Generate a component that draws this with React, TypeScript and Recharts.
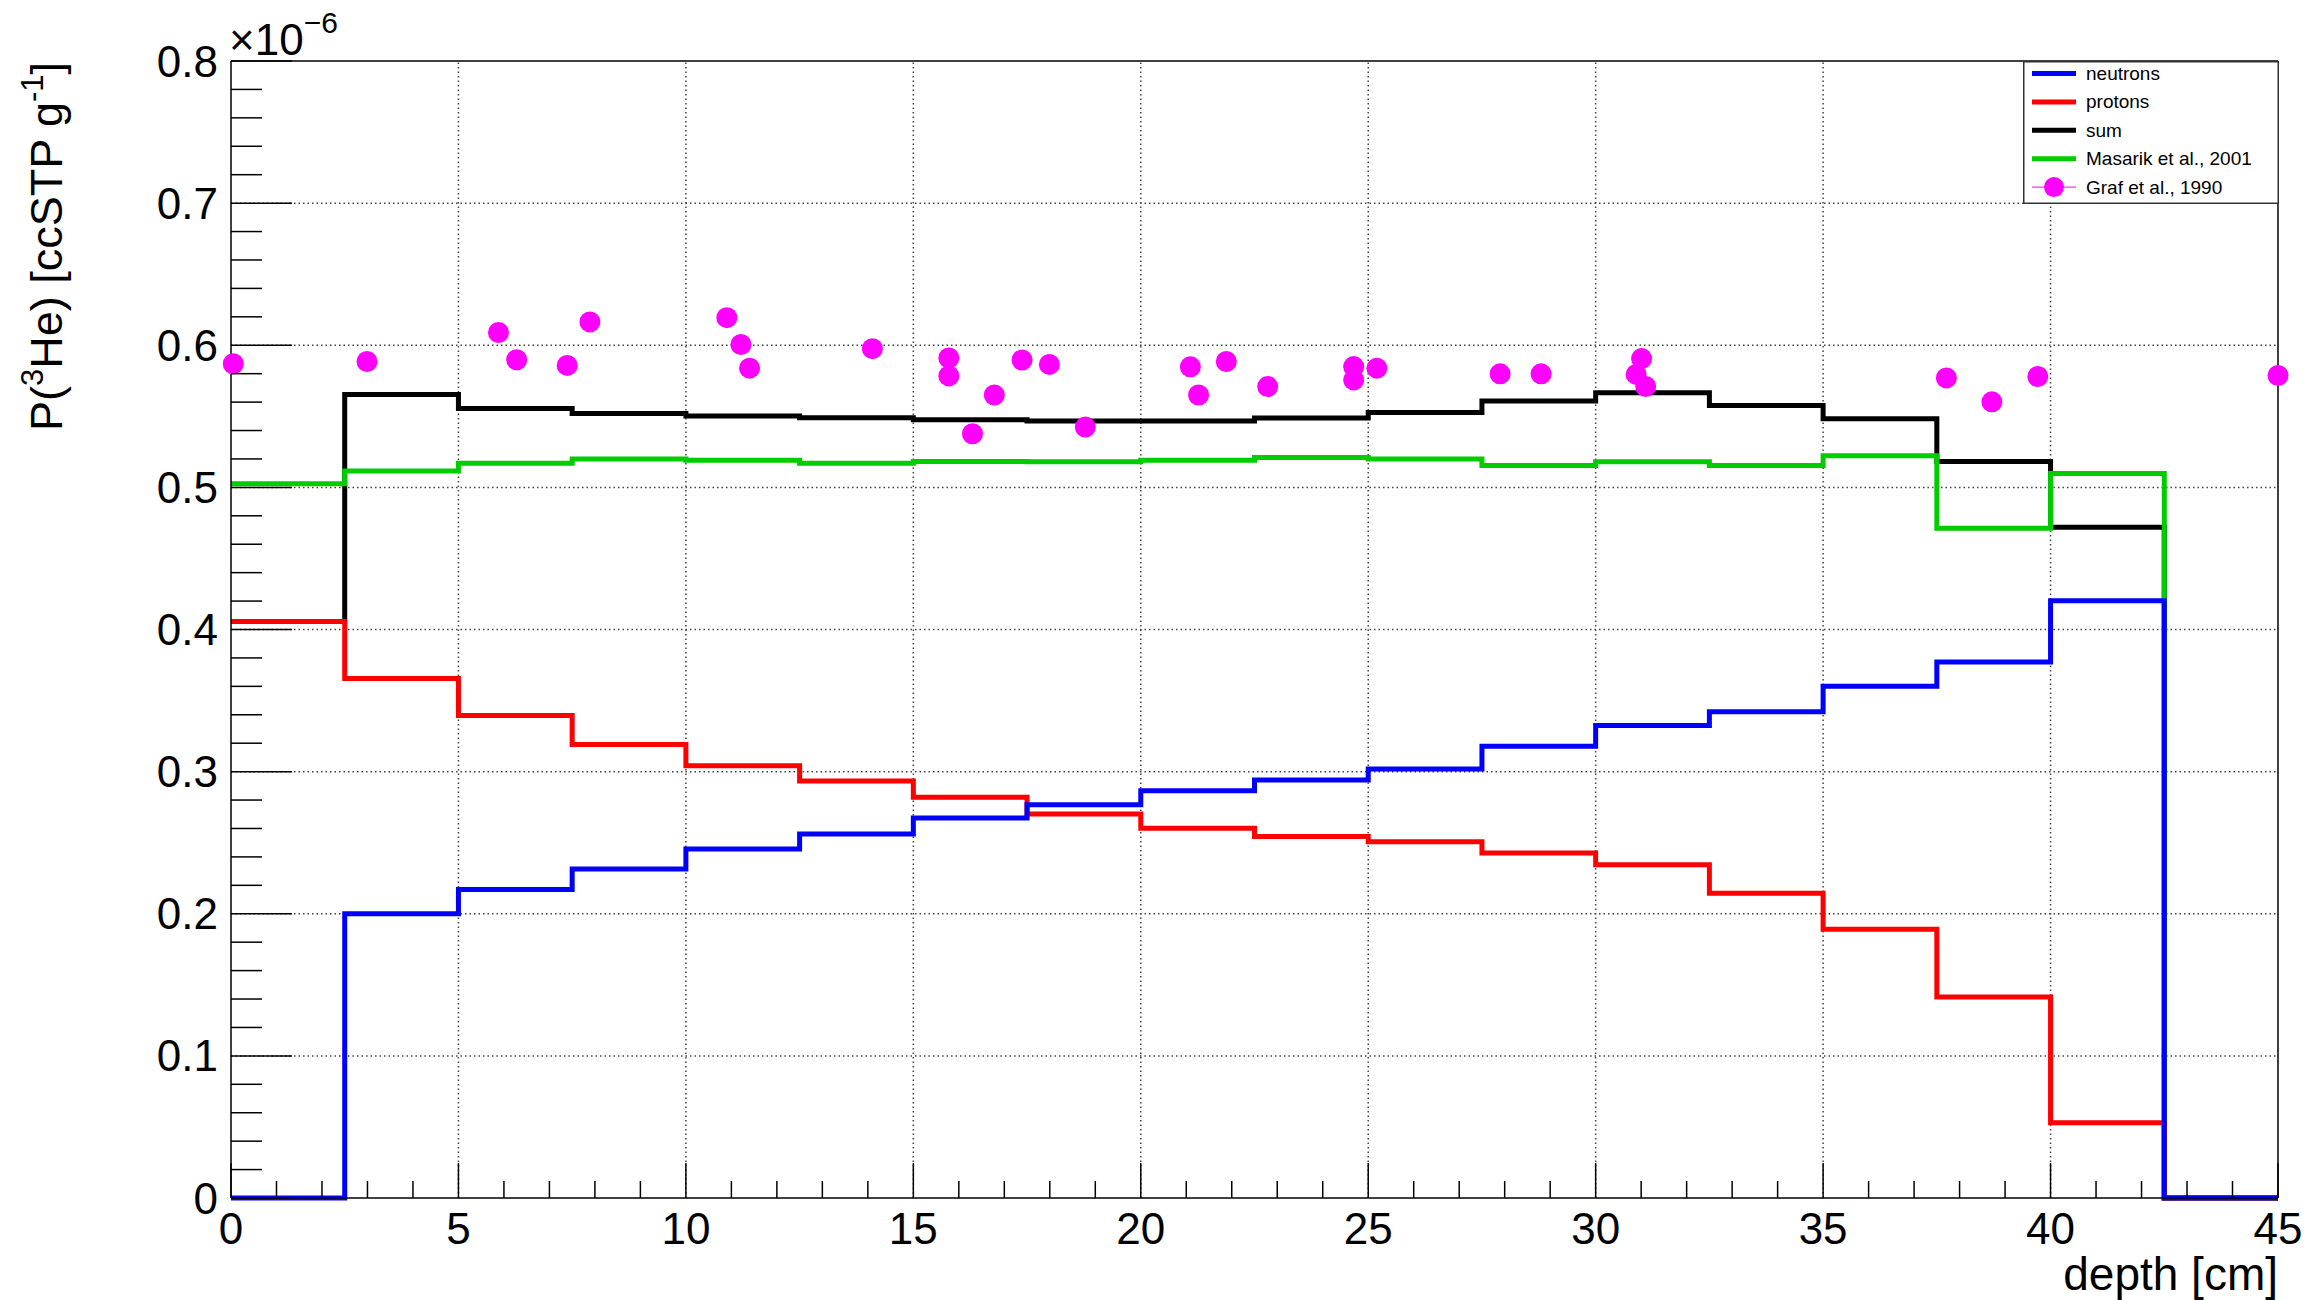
import React from 'react';
import {
  ComposedChart,
  Line,
  Scatter,
  XAxis,
  YAxis,
  ReferenceLine,
  Label,
} from 'recharts';

// depth bins (cm), values in units of 1e-6 ccSTP/g
const binEdges = [0, 2.5, 5, 7.5, 10, 12.5, 15, 17.5, 20, 22.5, 25, 27.5, 30, 32.5, 35, 37.5, 40, 42.5, 45];

const neutrons = [0, 0.2, 0.217, 0.2315, 0.2456, 0.2562, 0.2673, 0.2767, 0.2866, 0.2941, 0.3019, 0.3179, 0.3325, 0.3421, 0.36, 0.3772, 0.4202, 0];
const protons = [0.4056, 0.3656, 0.3395, 0.319, 0.3042, 0.2934, 0.2819, 0.2701, 0.2602, 0.2544, 0.2506, 0.2428, 0.2345, 0.2144, 0.1891, 0.1415, 0.0529, 0];
const sum = [0.4056, 0.5654, 0.5555, 0.552, 0.5503, 0.549, 0.5476, 0.5467, 0.5467, 0.5488, 0.5526, 0.5607, 0.5666, 0.5576, 0.5483, 0.5182, 0.472, 0];
const masarik = [0.5026, 0.5116, 0.517, 0.52, 0.519, 0.517, 0.5182, 0.518, 0.519, 0.521, 0.52, 0.5154, 0.518, 0.5154, 0.5223, 0.4713, 0.5097, 0];

// Graf et al., 1990 measurements
const grafDepth = [0.05, 2.99, 5.88, 6.28, 7.39, 7.89, 10.9, 11.21, 11.4, 14.1, 15.78, 15.78, 16.3, 16.78, 17.39, 17.99, 18.78, 21.09, 21.27, 21.88, 22.79, 24.68, 24.68, 25.19, 27.9, 28.8, 31.01, 30.89, 31.1, 37.71, 38.71, 39.72, 45.0];
const grafValue = [0.587, 0.5886, 0.609, 0.5898, 0.5858, 0.6164, 0.6194, 0.6005, 0.5839, 0.5976, 0.591, 0.5784, 0.5377, 0.565, 0.5896, 0.5865, 0.5424, 0.5848, 0.565, 0.5886, 0.5709, 0.585, 0.5756, 0.5839, 0.5799, 0.5799, 0.5906, 0.5795, 0.571, 0.577, 0.5602, 0.578, 0.5787];

const xTicks = [0, 1, 2, 3, 4, 5, 6, 7, 8, 9, 10, 11, 12, 13, 14, 15, 16, 17, 18, 19, 20, 21, 22, 23, 24, 25, 26, 27, 28, 29, 30, 31, 32, 33, 34, 35, 36, 37, 38, 39, 40, 41, 42, 43, 44, 45];
const yTicks = [0, 0.02, 0.04, 0.06, 0.08, 0.1, 0.12, 0.14, 0.16, 0.18, 0.2, 0.22, 0.24, 0.26, 0.28, 0.3, 0.32, 0.34, 0.36, 0.38, 0.4, 0.42, 0.44, 0.46, 0.48, 0.5, 0.52, 0.54, 0.56, 0.58, 0.6, 0.62, 0.64, 0.66, 0.68, 0.7, 0.72, 0.74, 0.76, 0.78, 0.8];
const xGrid = [5, 10, 15, 20, 25, 30, 35, 40];
const yGrid = [0.1, 0.2, 0.3, 0.4, 0.5, 0.6, 0.7];

const FONT = '"Liberation Sans", Arial, Helvetica, sans-serif';
const BLUE = '#0000ff';
const RED = '#ff0000';
const BLACK = '#000000';
const GREEN = '#00cc00';
const MAGENTA = '#ff00ff';

const histo = (values: number[]) =>
  binEdges.map((x, i) => ({ x, y: values[Math.min(i, values.length - 1)] }));

const grafData = grafDepth.map((x, i) => ({ x, y: grafValue[i] }));

const legendItems = [
  { label: 'neutrons', color: BLUE, marker: false },
  { label: 'protons', color: RED, marker: false },
  { label: 'sum', color: BLACK, marker: false },
  { label: 'Masarik et al., 2001', color: GREEN, marker: false },
  { label: 'Graf et al., 1990', color: MAGENTA, marker: true },
];

const XTick = (props: any) => {
  const { x, y, payload } = props;
  const v = payload.value;
  const major = v % 5 === 0;
  return (
    <g>
      <line x1={x} y1={y} x2={x} y2={y - (major ? 35 : 17)} stroke="#000" strokeWidth={1.5} />
      {major && (
        <text x={x} y={y + 30} textAnchor="middle" dominantBaseline="central" fontFamily={FONT} fontSize={44} fill="#000">
          {v}
        </text>
      )}
    </g>
  );
};

const YTick = (props: any) => {
  const { x, y, payload } = props;
  const v = payload.value;
  const major = Math.round(v * 100) % 10 === 0;
  return (
    <g>
      <line x1={x} y1={y} x2={x + (major ? 61 : 31)} y2={y} stroke="#000" strokeWidth={1.5} />
      {major && (
        <text x={x - 13} y={y} textAnchor="end" dominantBaseline="central" fontFamily={FONT} fontSize={44} fill="#000">
          {v === 0 ? '0' : v.toFixed(1)}
        </text>
      )}
    </g>
  );
};

const YTitle = () => (
  <g fontFamily={FONT} fill="#000">
    <text transform="translate(62, 62) rotate(-90)" textAnchor="end" fontSize={45}>
      P(
      <tspan fontSize={31} dy={-19}>3</tspan>
      <tspan dy={19}>He) [ccSTP g</tspan>
      <tspan fontSize={31} dy={-19}>-1</tspan>
      <tspan dy={19}>]</tspan>
    </text>
    <text x={229} y={55} fontSize={44}>
      ×10
      <tspan fontSize={30} dy={-22}>−6</tspan>
    </text>
  </g>
);

const XTitle = () => (
  <text x={2278} y={1290} textAnchor="end" fontFamily={FONT} fontSize={46} fill="#000">
    depth [cm]
  </text>
);

const LegendBox = () => (
  <svg width={256} height={143} style={{ display: 'block' }}>
    <rect x={0.75} y={0.75} width={254.5} height={141.5} fill="#fff" stroke="#333" strokeWidth={1.5} />
    {legendItems.map((item, i) => {
      const cy = 12.5 + i * 28.4;
      return (
        <g key={item.label}>
          <line x1={9} x2={53} y1={cy} y2={cy} stroke={item.color} strokeWidth={item.marker ? 1 : 5} />
          {item.marker && <circle cx={31} cy={cy} r={10} fill={item.color} />}
          <text x={63} y={cy} dominantBaseline="central" fontFamily={FONT} fontSize={19} fill="#000">
            {item.label}
          </text>
        </g>
      );
    })}
  </svg>
);

export default function App() {
  return (
    <div style={{ position: 'absolute', left: 0, top: 0, width: 2309, height: 1300, background: '#fff' }}>
      <ComposedChart width={2309} height={1300} margin={{ top: 61, right: 31, bottom: 0, left: 0 }}>
        <XAxis
          type="number"
          dataKey="x"
          domain={[0, 45]}
          ticks={xTicks}
          interval={0}
          tickSize={0}
          tickMargin={0}
          tickLine={false}
          tick={<XTick />}
          height={102}
          axisLine={{ stroke: '#000', strokeWidth: 1.5 }}
          allowDecimals
        >
          <Label content={<XTitle />} />
        </XAxis>
        <YAxis
          type="number"
          dataKey="y"
          domain={[0, 0.8]}
          ticks={yTicks}
          interval={0}
          tickSize={0}
          tickMargin={0}
          tickLine={false}
          tick={<YTick />}
          width={231}
          axisLine={{ stroke: '#000', strokeWidth: 1.5 }}
        >
          <Label content={<YTitle />} />
        </YAxis>
        {xGrid.map((v) => (
          <ReferenceLine key={'gx' + v} x={v} stroke="#444" strokeWidth={1.5} strokeDasharray="1.5 3" />
        ))}
        {yGrid.map((v) => (
          <ReferenceLine key={'gy' + v} y={v} stroke="#444" strokeWidth={1.5} strokeDasharray="1.5 3" />
        ))}
        <ReferenceLine y={0.8} stroke="#000" strokeWidth={1.5} />
        <ReferenceLine x={45} stroke="#000" strokeWidth={1.5} />
        <Line data={histo(sum)} dataKey="y" type="stepAfter" stroke={BLACK} strokeWidth={5} dot={false} activeDot={false} isAnimationActive={false} name="sum" />
        <Line data={histo(masarik)} dataKey="y" type="stepAfter" stroke={GREEN} strokeWidth={5} dot={false} activeDot={false} isAnimationActive={false} name="Masarik et al., 2001" />
        <Line data={histo(protons)} dataKey="y" type="stepAfter" stroke={RED} strokeWidth={5} dot={false} activeDot={false} isAnimationActive={false} name="protons" />
        <Line data={histo(neutrons)} dataKey="y" type="stepAfter" stroke={BLUE} strokeWidth={5} dot={false} activeDot={false} isAnimationActive={false} name="neutrons" />
        <Scatter
          data={grafData}
          dataKey="y"
          fill={MAGENTA}
          isAnimationActive={false}
          name="Graf et al., 1990"
          shape={(p: any) => <circle cx={p.cx} cy={p.cy} r={10.5} fill={MAGENTA} />}
        />
      </ComposedChart>
      <div style={{ position: 'absolute', left: 2023, top: 61 }}>
        <LegendBox />
      </div>
    </div>
  );
}
